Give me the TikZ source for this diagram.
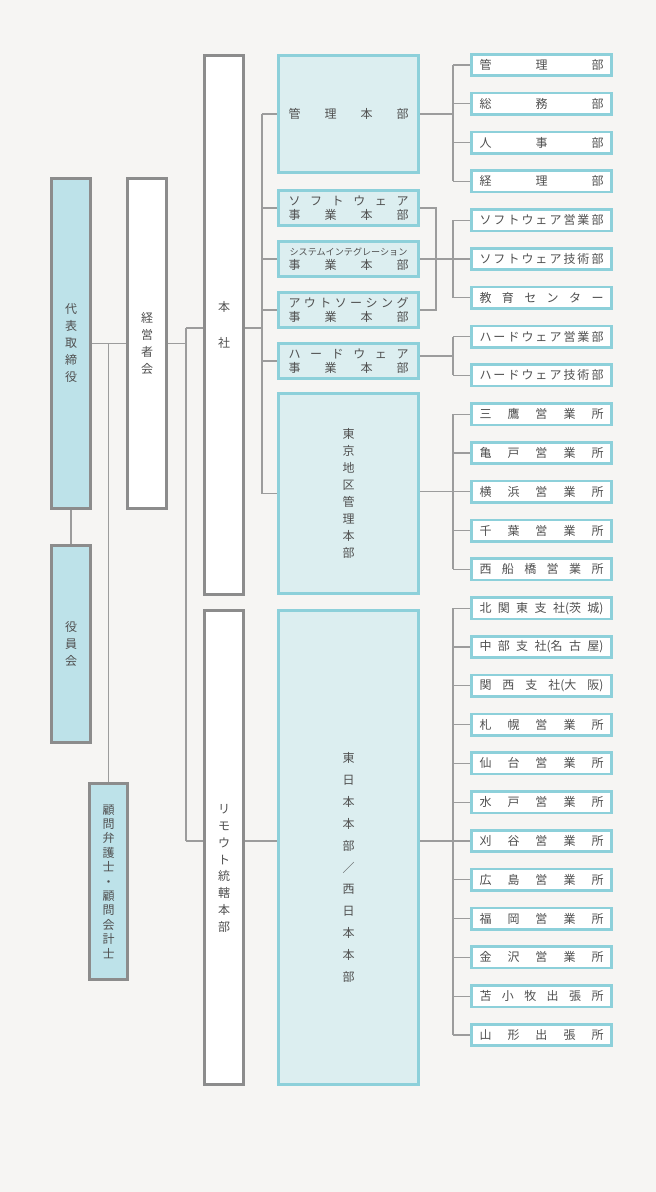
\documentclass[tikz,border=0pt]{standalone}
\usepackage{fontspec}
\setmainfont{Noto Sans CJK JP}
\usetikzlibrary{calc}
\definecolor{bgc}{HTML}{F6F5F3}
\definecolor{gborder}{HTML}{8C8C8C}
\definecolor{lblue}{HTML}{BDE2E9}
\definecolor{cfill}{HTML}{DCEEF0}
\definecolor{cborder}{HTML}{8DD0DA}
\definecolor{wirec}{HTML}{9C9C9C}
\definecolor{txt}{HTML}{505050}
\newcommand\hs{\hfill}
\newcommand\spr[2]{\makebox[#1][s]{#2}}
\pgfdeclarelayer{back}
\pgfdeclarelayer{wires}
\pgfsetlayers{back,wires,main}
\begin{document}
\begin{tikzpicture}[x=1pt,y=-1pt,
 gbox/.style={draw=gborder, line width=2.8pt, inner sep=0pt, text=txt, align=center, font=\fontsize{12}{17}\selectfont},
 cbox/.style={draw=cborder, line width=2.8pt, fill=cfill, inner sep=0pt, text=txt, align=center, font=\fontsize{12}{14.5}\selectfont},
 dbox/.style={draw=cborder, line width=2.6pt, fill=white, inner sep=0pt, text=txt, minimum width=140.4pt, minimum height=21.4pt, font=\fontsize{12}{14}\selectfont},
 vtext/.style={align=center, text=txt, inner sep=0pt},
 wire/.style={draw=wirec, line width=1.2pt},
]
\begin{pgfonlayer}{back}
\fill[bgc] (0,0) rectangle (656,1192);
\end{pgfonlayer}
\useasboundingbox (0,0) rectangle (656,1192);

% left column
\node[gbox, fill=lblue, minimum width=39.2pt, minimum height=330.2pt] (dai) at (71,343.5) {代\\表\\取\\締\\役};
\node[gbox, fill=lblue, minimum width=39.2pt, minimum height=197.2pt] (yakuin) at (71,644) {役\\員\\会};
\node[gbox, fill=lblue, minimum width=38.2pt, minimum height=196.2pt, font=\fontsize{12}{14.4}\selectfont] (komon) at (108.5,881.5) {顧\\問\\弁\\護\\士\\・\\顧\\問\\会\\計\\士};
\node[gbox, fill=white, minimum width=39.2pt, minimum height=330.2pt] (kei) at (147,343.5) {経\\営\\者\\会};
\node[gbox, fill=white, minimum width=39.2pt, minimum height=539.2pt, font=\fontsize{12}{36}\selectfont] (honsha) at (224,325) {本\\社};
\node[gbox, fill=white, minimum width=39.2pt, minimum height=474.2pt] (remote) at (224,847.5) {};
\node[vtext, font=\fontsize{12}{16.8}\selectfont] (remotet) at (224,868.5) {リ\\モ\\ウ\\ト\\統\\轄\\本\\部};

% second column
\node[cbox, minimum width=140.2pt, minimum height=117.2pt] (kanri) at (348.5,114) {\spr{120pt}{管\hs 理\hs 本\hs 部}};
\node[cbox, minimum width=140.2pt, minimum height=35.2pt] (soft) at (348.5,208) {\spr{120pt}{ソ\hs フ\hs ト\hs ウ\hs ェ\hs ア}\\\spr{120pt}{事\hs 業\hs 本\hs 部}};
\node[cbox, minimum width=140.2pt, minimum height=35.2pt] (sys) at (348.5,259) {{\fontsize{9.1}{11}\selectfont システムインテグレーション}\\\spr{120pt}{事\hs 業\hs 本\hs 部}};
\node[cbox, minimum width=140.2pt, minimum height=35.2pt] (out) at (348.5,310) {\spr{120pt}{ア\hs ウ\hs ト\hs ソ\hs ー\hs シ\hs ン\hs グ}\\\spr{120pt}{事\hs 業\hs 本\hs 部}};
\node[cbox, minimum width=140.2pt, minimum height=35.2pt] (hard) at (348.5,361) {\spr{120pt}{ハ\hs ー\hs ド\hs ウ\hs ェ\hs ア}\\\spr{120pt}{事\hs 業\hs 本\hs 部}};
\node[cbox, minimum width=140.2pt, minimum height=200.2pt, font=\fontsize{12}{17}\selectfont] (tokyo) at (348.5,493.5) {東\\京\\地\\区\\管\\理\\本\\部};
\node[cbox, minimum width=140.2pt, minimum height=474.2pt] (higashi) at (348.5,847.5) {};
\node[vtext, font=\fontsize{12}{21.9}\selectfont] (higashit) at (348.5,867.5) {東\\日\\本\\本\\部\\／\\西\\日\\本\\本\\部};

% third column
\foreach \i/\t in {0/{管\hs 理\hs 部},1/{総\hs 務\hs 部},2/{人\hs 事\hs 部},3/{経\hs 理\hs 部},
 4/{ソ\hs フ\hs ト\hs ウ\hs ェ\hs ア\hs 営\hs 業\hs 部},5/{ソ\hs フ\hs ト\hs ウ\hs ェ\hs ア\hs 技\hs 術\hs 部},6/{教\hs 育\hs セ\hs ン\hs タ\hs ー},
 7/{ハ\hs ー\hs ド\hs ウ\hs ェ\hs ア\hs 営\hs 業\hs 部},8/{ハ\hs ー\hs ド\hs ウ\hs ェ\hs ア\hs 技\hs 術\hs 部},
 9/{三\hs 鷹\hs 営\hs 業\hs 所},10/{亀\hs 戸\hs 営\hs 業\hs 所},11/{横\hs 浜\hs 営\hs 業\hs 所},12/{千\hs 葉\hs 営\hs 業\hs 所},13/{西\hs 船\hs 橋\hs 営\hs 業\hs 所},
 14/{北\hs 関\hs 東\hs 支\hs 社(茨\hs 城)},15/{中\hs 部\hs 支\hs 社(名\hs 古\hs 屋)},16/{関\hs 西\hs 支\hs 社(大\hs 阪)},
 17/{札\hs 幌\hs 営\hs 業\hs 所},18/{仙\hs 台\hs 営\hs 業\hs 所},19/{水\hs 戸\hs 営\hs 業\hs 所},20/{刈\hs 谷\hs 営\hs 業\hs 所},
 21/{広\hs 島\hs 営\hs 業\hs 所},22/{福\hs 岡\hs 営\hs 業\hs 所},23/{金\hs 沢\hs 営\hs 業\hs 所},24/{苫\hs 小\hs 牧\hs 出\hs 張\hs 所},25/{山\hs 形\hs 出\hs 張\hs 所}}
 \node[dbox] (d\i) at (541.5,65+38.8*\i) {\spr{124pt}{\t}};

% connectors
\coordinate (v1t) at (186,328);
\coordinate (v1b) at (186,841);
\coordinate (cb) at (262,0);
\coordinate (cc) at (436,0);
\coordinate (ca) at (453,0);
\begin{pgfonlayer}{wires}
\draw[wire] (dai.east) -- (kei.west);
\draw[wire] (dai.east -| komon.north) -- (komon.north);
\draw[wire] (dai.south) -- (yakuin.north);
\draw[wire] (kei.east) -- (kei.east -| v1t);
\draw[wire] (v1t) -- (v1b);
\draw[wire] (v1t) -- (v1t -| honsha.west);
\draw[wire] (v1b) -- (v1b -| remote.west);
\draw[wire] (honsha.east |- v1t) -- (v1t -| cb);
\draw[wire] (kanri.west -| cb) -- (tokyo.west -| cb);
\foreach \n in {kanri,soft,sys,out,hard,tokyo}
  \draw[wire] (\n.west -| cb) -- (\n.west);
\draw[wire] (remote.east |- v1b) -- (v1b -| higashi.west);
% kanri group
\draw[wire] (kanri.east) -- (kanri.east -| ca);
\draw[wire] (d0.west -| ca) -- (d3.west -| ca);
% software group
\draw[wire] (soft.east) -- (soft.east -| cc) -- (out.east -| cc) -- (out.east);
\draw[wire] (sys.east) -- (sys.east -| ca);
\draw[wire] (d4.west -| ca) -- (d6.west -| ca);
% hardware group
\coordinate (hm) at ($(d7.west)!0.5!(d8.west)$);
\draw[wire] (hard.east |- hm) -- (hm -| ca);
\draw[wire] (d7.west -| ca) -- (d8.west -| ca);
% tokyo group
\draw[wire] (tokyo.east |- d11.west) -- (d11.west -| ca);
\draw[wire] (d9.west -| ca) -- (d13.west -| ca);
% higashi group
\draw[wire] (higashi.east |- d20.west) -- (d20.west -| ca);
\draw[wire] (d14.west -| ca) -- (d25.west -| ca);
\foreach \i in {0,...,25}
  \draw[wire] (d\i.west -| ca) -- (d\i.west);
\end{pgfonlayer}
\end{tikzpicture}
\end{document}
